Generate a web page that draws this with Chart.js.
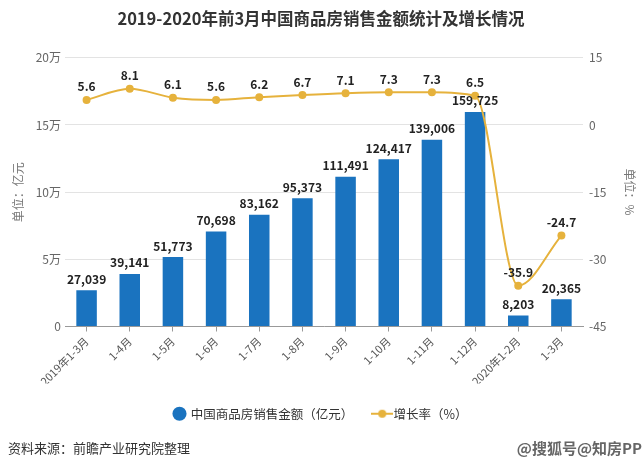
<!DOCTYPE html>
<html>
<head>
<meta charset="utf-8">
<script src="https://cdn.jsdelivr.net/npm/chart.js@4"></script>
<style>
  html, body { margin: 0; padding: 0; background: #fff; }
  #wrap { width: 642px; height: 470px; position: relative; }
</style>
</head>
<body>
<div id="wrap"><canvas id="salesChart" width="642" height="470"></canvas></div>
<script>
// chart data
const periods = ['2019年1-3月', '1-4月', '1-5月', '1-6月', '1-7月', '1-8月', '1-9月', '1-10月', '1-11月', '1-12月', '2020年1-2月', '1-3月'];
const salesAmount = [27039, 39141, 51773, 70698, 83162, 95373, 111491, 124417, 139006, 159725, 8203, 20365];
const growthRate = [5.6, 8.1, 6.1, 5.6, 6.2, 6.7, 7.1, 7.3, 7.3, 6.5, -35.9, -24.7];

const FONT = '"Noto Sans CJK SC", "Microsoft YaHei", sans-serif';
const BLUE = '#1a73bf';
const GOLD = '#e6b23c';

// small legend swatch for the line series: line with a dot
function lineSwatch() {
  const c = document.createElement('canvas');
  c.width = 22; c.height = 10;
  const g = c.getContext('2d');
  g.strokeStyle = GOLD; g.lineWidth = 2;
  g.beginPath(); g.moveTo(0, 5); g.lineTo(22, 5); g.stroke();
  g.fillStyle = GOLD;
  g.beginPath(); g.arc(11, 5, 4, 0, Math.PI * 2); g.fill();
  return c;
}

// value labels above bars and points
const valueLabels = {
  id: 'valueLabels',
  afterDatasetsDraw(chart) {
    const ctx = chart.ctx;
    ctx.save();
    ctx.font = 'bold 12px ' + FONT;
    ctx.fillStyle = '#222';
    ctx.textAlign = 'center';
    ctx.textBaseline = 'bottom';
    chart.data.datasets.forEach((ds, i) => {
      const meta = chart.getDatasetMeta(i);
      meta.data.forEach((el, j) => {
        const v = ds.data[j];
        if (ds.type === 'bar') {
          ctx.fillText(v.toLocaleString('en-US'), el.x, el.y - 5);
        } else {
          ctx.fillText(v.toFixed(1), el.x, el.y - 7);
        }
      });
    });
    ctx.restore();
  }
};

// source note and watermark at the bottom
const footNote = {
  id: 'footNote',
  afterDraw(chart) {
    const ctx = chart.ctx;
    ctx.save();
    ctx.font = '13px ' + FONT;
    ctx.fillStyle = '#333';
    ctx.textBaseline = 'middle';
    ctx.textAlign = 'left';
    ctx.fillText('资料来源：前瞻产业研究院整理', 8, 448);
    ctx.font = 'bold 15px ' + FONT;
    ctx.textAlign = 'right';
    ctx.fillStyle = '#666';
    ctx.fillText('@搜狐号@知房PP', 642, 448);
    ctx.restore();
  }
};

const ctx = document.getElementById('salesChart').getContext('2d');
new Chart(ctx, {
  data: {
    labels: periods,
    datasets: [
      {
        type: 'bar',
        label: '中国商品房销售金额（亿元）',
        data: salesAmount,
        backgroundColor: BLUE,
        yAxisID: 'y',
        order: 2,
        barPercentage: 0.95,
        categoryPercentage: 0.5,
        pointStyle: 'circle'
      },
      {
        type: 'line',
        label: '增长率（%）',
        data: growthRate,
        borderColor: GOLD,
        backgroundColor: GOLD,
        borderWidth: 2,
        pointRadius: 4,
        pointBackgroundColor: GOLD,
        pointBorderWidth: 0,
        cubicInterpolationMode: 'monotone',
        yAxisID: 'y1',
        order: 1
      }
    ]
  },
  options: {
    responsive: false,
    animation: false,
    layout: { padding: { left: 5, right: 5, top: 0, bottom: 40 } },
    plugins: {
      title: {
        display: true,
        text: '2019-2020年前3月中国商品房销售金额统计及增长情况',
        color: '#333',
        font: { family: FONT, size: 16.5, weight: 'bold' },
        padding: { top: 9, bottom: 29 }
      },
      legend: {
        position: 'bottom',
        labels: {
          usePointStyle: true,
          boxWidth: 10,
          boxHeight: 10,
          padding: 24,
          color: '#333',
          font: { family: FONT, size: 12.5 },
          sort: (a, b) => a.datasetIndex - b.datasetIndex,
          generateLabels(chart) {
            const items = Chart.defaults.plugins.legend.labels.generateLabels(chart);
            items.forEach(it => {
              if (it.datasetIndex === 1) it.pointStyle = lineSwatch();
              else it.pointStyle = 'circle';
            });
            return items;
          }
        }
      },
      tooltip: { enabled: false }
    },
    scales: {
      x: {
        offset: true,
        grid: { display: true, drawOnChartArea: false, offset: false, tickLength: 5, color: '#999' },
        border: { color: '#999' },
        ticks: { minRotation: 45, maxRotation: 45, color: '#555', font: { family: FONT, size: 11 } },
        afterFit(axis) { axis.height = 57; }
      },
      y: {
        position: 'left',
        min: 0,
        max: 200000,
        ticks: {
          stepSize: 50000,
          color: '#666',
          padding: 4,
          font: { family: FONT, size: 12 },
          callback: v => v === 0 ? '0' : (v / 10000) + '万'
        },
        grid: { color: '#e3e3e3', drawTicks: false },
        border: { display: false },
        title: { display: true, text: '单位：亿元', color: '#777', font: { family: FONT, size: 12 }, padding: { top: 6, bottom: 0 } },
        afterFit(axis) { axis.width = 60; }
      },
      y1: {
        position: 'right',
        min: -45,
        max: 15,
        ticks: {
          stepSize: 15,
          color: '#666',
          padding: 6,
          font: { family: FONT, size: 12 }
        },
        grid: { drawOnChartArea: false, drawTicks: false },
        border: { display: false },
        title: { display: true, text: '单位：%', color: '#777', font: { family: FONT, size: 12 }, padding: { top: 0, bottom: 6 } },
        afterFit(axis) { axis.width = 54; }
      }
    }
  },
  plugins: [valueLabels, footNote]
});
</script>
</body>
</html>
